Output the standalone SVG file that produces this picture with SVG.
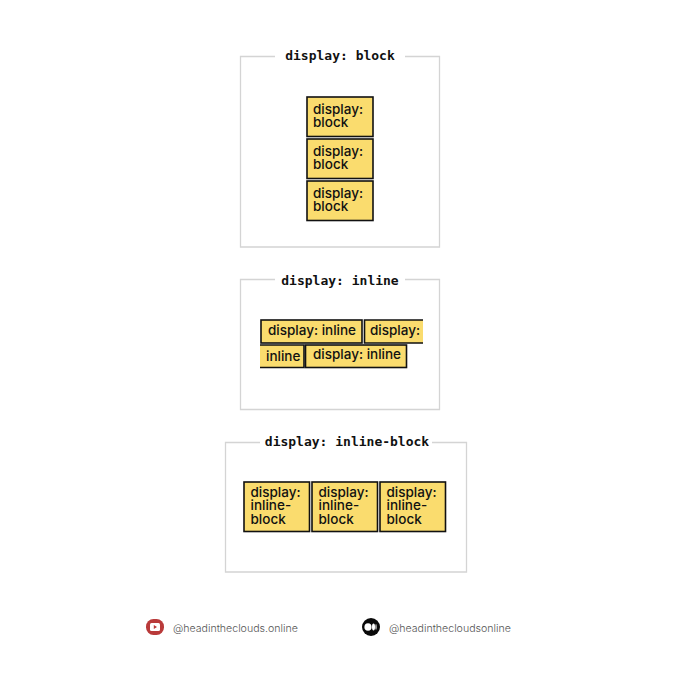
<svg xmlns="http://www.w3.org/2000/svg" width="680" height="680" viewBox="0 0 680 680">
<style>
.frame{fill:none;stroke:#d4d4d4;stroke-width:1.3}
.title{font-family:"DejaVu Sans Mono","Liberation Mono",monospace;font-weight:700;font-size:13px;fill:#111;text-anchor:middle}
.box{fill:#fadc6e;stroke:#111;stroke-width:1.6}
.t{font-family:"Inter","Noto Sans",sans-serif;font-size:13.500px;font-weight:500;fill:#111}
.s{font-family:"Inter","Noto Sans",sans-serif;font-size:10.600px;fill:#555;font-weight:300}
</style>
<rect width="680" height="680" fill="#fff"/>
<g id="block-section">
<path class="frame" d="M275 56.500H240.500V247H439.500V56.500H405"/>
<text class="title" x="340" y="60">display: block</text>
<g id="block-1"><rect class="box" x="307" y="97" width="66" height="39.500"/><text class="t" x="313" y="114">display:<tspan x="313" dy="13">block</tspan></text></g>
<g id="block-2"><rect class="box" x="307" y="139" width="66" height="39.500"/><text class="t" x="313" y="156">display:<tspan x="313" dy="13">block</tspan></text></g>
<g id="block-3"><rect class="box" x="307" y="181" width="66" height="39.500"/><text class="t" x="313" y="198">display:<tspan x="313" dy="13">block</tspan></text></g>
</g>
<g id="inline-section">
<path class="frame" d="M275 279.500H240.500V409.500H439.500V279.500H405"/>
<text class="title" x="340" y="285">display: inline</text>
<g id="inline-1"><rect class="box" x="261" y="320" width="101" height="23"/><text class="t" x="268" y="335">display: inline</text></g>
<g id="inline-2"><path class="box" d="M423 320H364.500V343H423"/><text class="t" x="370" y="335">display:</text></g>
<g id="inline-3"><path class="box" d="M260 345H304V367.500H260"/><text class="t" x="266" y="361">inline</text></g>
<g id="inline-4"><rect class="box" x="305.500" y="345" width="101" height="22.500"/><text class="t" x="313" y="359">display: inline</text></g>
</g>
<g id="inline-block-section">
<path class="frame" d="M260 442.500H225.500V572H466.500V442.500H432"/>
<text class="title" x="347" y="446">display: inline-block</text>
<g id="ib-1"><rect class="box" x="244" y="482" width="65.500" height="49.500"/><text class="t" x="250.500" y="497">display:<tspan x="250.500" dy="13">inline-</tspan><tspan x="250.500" dy="14">block</tspan></text></g>
<g id="ib-2"><rect class="box" x="312" y="482" width="65.500" height="49.500"/><text class="t" x="318.500" y="497">display:<tspan x="318.500" dy="13">inline-</tspan><tspan x="318.500" dy="14">block</tspan></text></g>
<g id="ib-3"><rect class="box" x="380" y="482" width="65.500" height="49.500"/><text class="t" x="386.500" y="497">display:<tspan x="386.500" dy="13">inline-</tspan><tspan x="386.500" dy="14">block</tspan></text></g>
</g>
<g id="youtube">
<rect x="146" y="619" width="18" height="16" rx="7.500" fill="#b93a3a"/>
<rect x="150" y="623" width="10" height="8" rx="1.500" fill="#fff"/>
<path d="M153.800 625V629L157 627Z" fill="#b93a3a"/>
<text class="s" x="173" y="632">@headintheclouds.online</text>
</g>
<g id="medium">
<circle cx="371" cy="627" r="9" fill="#0a0a0a"/>
<ellipse cx="368" cy="627" rx="3.600" ry="3.800" fill="#fff"/>
<ellipse cx="373.500" cy="627" rx="1.500" ry="3.400" fill="#fff"/>
<ellipse cx="376" cy="627" rx=".6" ry="3" fill="#fff"/>
<text class="s" x="389" y="632">@headinthecloudsonline</text>
</g>
</svg>
